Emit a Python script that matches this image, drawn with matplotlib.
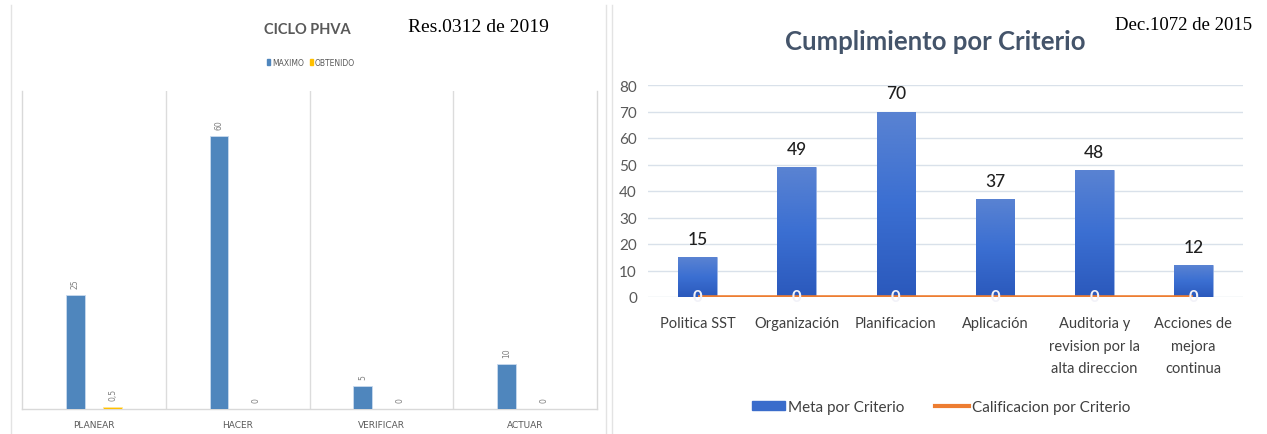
import matplotlib
matplotlib.use("Agg")
import matplotlib.pyplot as plt
import numpy as np
from matplotlib.lines import Line2D
from matplotlib.patches import Patch
from matplotlib.colors import LinearSegmentedColormap

# ---------------- data ----------------
phva_categories = ["PLANEAR", "HACER", "VERIFICAR", "ACTUAR"]
phva_maximo = [25, 60, 5, 10]
phva_obtenido = [0.5, 0, 0, 0]
phva_obtenido_labels = ["0,5", "0", "0", "0"]

crit_categories = ["Politica SST", "Organización", "Planificacion", "Aplicación",
                   "Auditoria y\nrevision por la\nalta direccion",
                   "Acciones de\nmejora\ncontinua"]
crit_meta = [15, 49, 70, 37, 48, 12]
crit_calificacion = [0, 0, 0, 0, 0, 0]
crit_yticks = [0, 10, 20, 30, 40, 50, 60, 70, 80]

W, H = 1267, 435
fig = plt.figure(figsize=(W / 100, H / 100), dpi=100)
fig.patch.set_facecolor("white")

def fx(px):
    return px / W

def fy(py):
    return 1 - py / H

# ---------------- decorative frame lines ----------------
for xpx in (11, 606, 612):
    fig.add_artist(Line2D([fx(xpx), fx(xpx)], [fy(6), fy(435)], color="#E3E3E3", lw=1.0))

# ---------------- left chart ----------------
ax1 = fig.add_axes([fx(22), fy(410), fx(597) - fx(22), fy(92) - fy(410)])
x1 = np.arange(len(phva_categories))
bw = 0.13
off = 0.13
c_max = "#4F86BD"
c_obt = "#FFC000"
ax1.bar(x1 - off, phva_maximo, bw, color=c_max, edgecolor="#C9DAEE", linewidth=0.6, zorder=3)
ax1.bar(x1 + off, phva_obtenido, bw, color=c_obt, edgecolor="#FFE699", linewidth=0.6, zorder=3)
ax1.set_xlim(-0.5, len(phva_categories) - 0.5)
ax1.set_ylim(0, 70)
for xv in np.arange(0.5, len(phva_categories) - 0.5, 1):
    ax1.axvline(xv, color="#DCDCDC", lw=1.0, zorder=1)
for s in ("left", "right", "bottom"):
    ax1.spines[s].set_color("#D9D9D9")
    ax1.spines[s].set_linewidth(1.0)
ax1.spines["top"].set_visible(False)
ax1.set_yticks([])
ax1.set_xticks(x1)
ax1.set_xticklabels(phva_categories, fontsize=6.5, color="#595959",
                    fontfamily="DejaVu Sans")
ax1.tick_params(axis="x", length=0, pad=8)
for xi, v in zip(x1, phva_maximo):
    ax1.annotate(str(v), (xi - off, v), xytext=(0, 5), textcoords="offset points",
                 ha="center", va="bottom", rotation=90, fontsize=5.5, color="#7F7F7F")
for xi, v, lab in zip(x1, phva_obtenido, phva_obtenido_labels):
    ax1.annotate(lab, (xi + off, v), xytext=(0, 5), textcoords="offset points",
                 ha="center", va="bottom", rotation=90, fontsize=5.5, color="#7F7F7F")

fig.text(fx(307), fy(30), "CICLO PHVA", ha="center", va="center", fontsize=10.5,
         fontweight="bold", color="#595959", fontfamily="Lato")
fig.text(fx(478), fy(28), "Res.0312 de 2019", ha="center", va="center", fontsize=14,
         color="black", fontfamily="Liberation Serif")
leg1 = fig.legend(handles=[Patch(color=c_max, label="MAXIMO"), Patch(color=c_obt, label="OBTENIDO")],
                  loc="center", bbox_to_anchor=(fx(311), fy(63)), ncol=2, frameon=False,
                  fontsize=5.5, handlelength=0.35, handleheight=0.9, handletextpad=0.3,
                  columnspacing=0.8, borderpad=0)
for t in leg1.get_texts():
    t.set_color("#595959")

# ---------------- right chart ----------------
ax2 = fig.add_axes([fx(648), fy(298), fx(1243) - fx(648), fy(86) - fy(298)])
x2 = np.arange(len(crit_categories))
bw2 = 0.39
bars = ax2.bar(x2, crit_meta, bw2, color="#3A6CCB", edgecolor="#9DB5E6", linewidth=0.5, zorder=3)
cmap = LinearSegmentedColormap.from_list("g", ["#2B59BC", "#3B6FD2", "#5A83D2"])
grad = np.linspace(0, 1, 256).reshape(-1, 1)
for b in bars:
    x0, y0 = b.get_x(), b.get_y()
    im = ax2.imshow(grad, cmap=cmap, origin="lower", aspect="auto",
                    extent=[x0, x0 + b.get_width(), y0, y0 + b.get_height()], zorder=3.5)
    im.set_clip_path(b)
ax2.plot(x2, crit_calificacion, color="#ED7D31", lw=2.6, zorder=4, solid_capstyle="butt")
ax2.set_xlim(-0.5, len(crit_categories) - 0.5)
ax2.set_ylim(0, 80)
ax2.set_yticks(crit_yticks)
ax2.grid(axis="y", color="#D9E1EA", lw=1.0, zorder=0)
ax2.set_axisbelow(True)
for s in ax2.spines.values():
    s.set_visible(False)
ax2.tick_params(axis="y", length=0, labelsize=11, labelcolor="#595959", pad=8)
ax2.tick_params(axis="x", length=0, labelsize=10.5, labelcolor="#404040", pad=14)
ax2.set_xticks(x2)
ax2.set_xticklabels(crit_categories, fontfamily="Lato", linespacing=1.75)
for lab in ax2.get_yticklabels():
    lab.set_fontfamily("Lato")
for xi, v in zip(x2, crit_meta):
    ax2.annotate(str(v), (xi, v), xytext=(0, 13), textcoords="offset points",
                 ha="center", va="center", fontsize=12.5, color="#1F1F1F", fontfamily="Lato",
                 fontweight="medium")
for xi, v in zip(x2, crit_calificacion):
    ax2.annotate(str(v), (xi, v), xytext=(0, 1), textcoords="offset points",
                 ha="center", va="center", fontsize=12, color="#F2F2F8",
                 fontfamily="Lato", fontweight="bold", zorder=5)

fig.text(fx(935), fy(42), "Cumplimiento por Criterio", ha="center", va="center", fontsize=18.5,
         fontweight="bold", color="#44546A", fontfamily="Lato")
fig.text(fx(1184), fy(25), "Dec.1072 de 2015", ha="center", va="center", fontsize=13.5,
         color="black", fontfamily="Liberation Serif")
leg2 = fig.legend(handles=[Patch(color="#3A6CCB", label="Meta por Criterio"),
                           Line2D([], [], color="#ED7D31", lw=3, label="Calificacion por Criterio")],
                  loc="center", bbox_to_anchor=(fx(941), fy(408)), ncol=2, frameon=False,
                  handlelength=2.2, handleheight=0.6, handletextpad=0.2,
                  columnspacing=2.0, borderpad=0, prop={"family": "Lato", "size": 11})
for t in leg2.get_texts():
    t.set_color("#404040")

fig.savefig("out.png", dpi=100, facecolor="white")
